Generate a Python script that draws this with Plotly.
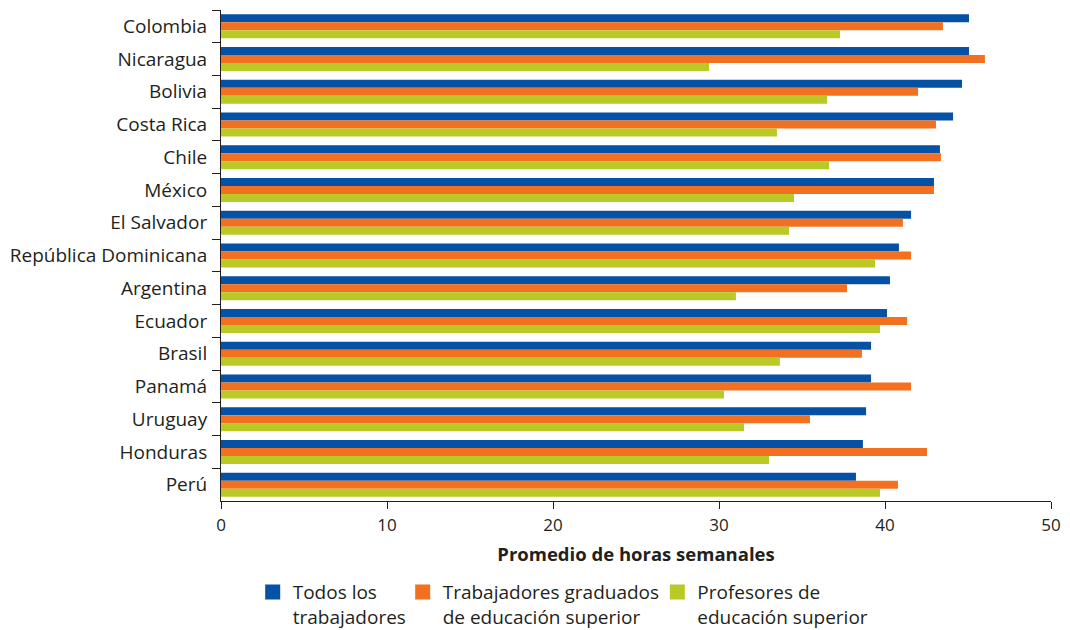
import plotly.graph_objects as go

countries = ["Colombia", "Nicaragua", "Bolivia", "Costa Rica", "Chile", "México",
             "El Salvador", "República Dominicana", "Argentina", "Ecuador", "Brasil",
             "Panamá", "Uruguay", "Honduras", "Perú"]
todos = [45.06, 45.06, 44.64, 44.10, 43.31, 42.95, 41.57, 40.84, 40.30, 40.12,
         39.16, 39.16, 38.86, 38.67, 38.25]
graduados = [43.49, 46.02, 41.99, 43.07, 43.37, 42.95, 41.08, 41.57, 37.71, 41.33,
             38.61, 41.57, 35.48, 42.53, 40.78]
profesores = [37.29, 29.40, 36.51, 33.49, 36.63, 34.52, 34.22, 39.40, 31.02, 39.70,
              33.67, 30.30, 31.51, 33.01, 39.70]

series_names = ["Todos los<br>trabajadores",
                "Trabajadores graduados<br>de educación superior",
                "Profesores de<br>educación superior"]
colors = ["#0451a5", "#f37021", "#bbc927"]
legend_x = [0.0382, 0.2189, 0.5257]
FONT = "Open Sans"
TXT = "#231f20"
AXC = "#231f20"

fig = go.Figure()
for vals, name, col in zip([todos, graduados, profesores], series_names, colors):
    fig.add_trace(go.Bar(
        y=countries, x=vals, name=name, orientation="h",
        marker=dict(color=col, line=dict(width=0)),
        showlegend=False,
    ))

legend_keys = ["legend", "legend2", "legend3"]
for name, col, key in zip(series_names, colors, legend_keys):
    fig.add_trace(go.Scatter(
        x=[None], y=[None], mode="markers", name=name,
        marker=dict(symbol="square", size=15, color=col, line=dict(width=0)),
        showlegend=True, legend=key, hoverinfo="skip",
    ))

leg_common = dict(orientation="h", yanchor="top", xanchor="left", y=-0.147,
                  font=dict(family=FONT, size=19, color=TXT), valign="top",
                  itemwidth=30, bgcolor="rgba(0,0,0,0)", borderwidth=0)
fig.update_layout(
    width=1062, height=622,
    margin=dict(l=213, r=19, t=2, b=129, autoexpand=False),
    paper_bgcolor="white", plot_bgcolor="white",
    barmode="group", bargap=0.267, bargroupgap=0,
    showlegend=True,
    font=dict(family=FONT, size=17, color=TXT),
    legend=dict(x=legend_x[0], **leg_common),
    legend2=dict(x=legend_x[1], **leg_common),
    legend3=dict(x=legend_x[2], **leg_common),
    xaxis=dict(range=[0, 50], dtick=10, showgrid=False, zeroline=False,
               showline=True, linecolor=AXC, linewidth=1,
               ticks="outside", ticklen=7, tickcolor=AXC, tickwidth=1,
               ticklabelstandoff=2,
               tickfont=dict(family=FONT, size=17, color=TXT),
               title=dict(text="<b>Promedio de horas semanales</b>", standoff=12,
                          font=dict(family=FONT, size=18.5, color=TXT))),
    yaxis=dict(autorange="reversed", showgrid=False, showline=True,
               linecolor=AXC, linewidth=1,
               ticks="outside", tickson="boundaries", ticklen=8,
               tickcolor=AXC, tickwidth=1, ticklabelstandoff=9,
               tickfont=dict(family=FONT, size=19, color=TXT)),
)

fig.write_html("out.html")
